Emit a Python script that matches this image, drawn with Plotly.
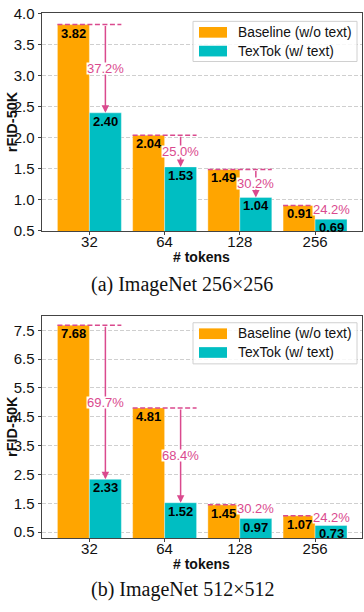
import plotly.graph_objects as go
from plotly.subplots import make_subplots

W, H = 364, 612

TOKENS = ["32", "64", "128", "256"]

# (a) ImageNet 256x256
BASE_256 = [3.82, 2.04, 1.49, 0.91]
TEXTOK_256 = [2.40, 1.53, 1.04, 0.69]
PCT_256 = ["37.2%", "25.0%", "30.2%", "24.2%"]

# (b) ImageNet 512x512
BASE_512 = [7.68, 4.81, 1.45, 1.07]
TEXTOK_512 = [2.33, 1.52, 0.97, 0.73]
PCT_512 = ["69.7%", "68.4%", "30.2%", "24.2%"]

YTICKS_256 = [0.5, 1.0, 1.5, 2.0, 2.5, 3.0, 3.5, 4.0]
YTICKS_512 = [0.5, 1.5, 2.5, 3.5, 4.5, 5.5, 6.5, 7.5]

SERIES_NAMES = ["Baseline (w/o text)", "TexTok (w/ text)"]

ORANGE = "#FFA500"
TEAL = "#00BEC2"
PINK = "#DA4A8E"
AXIS = "#444444"
FONT = "Liberation Sans"


def px_x(p):
    return p / W


def px_y(p):
    return 1 - p / H


panels = [
    dict(base=BASE_256, tok=TEXTOK_256, pct=PCT_256, yrange=[0.5, 4.0], yticks=YTICKS_256,
         top=4.5, bottom=228.3, xtitle_y=255, caption="(a) ImageNet 256×256", cap_y=283,
         leg=(193, 12.7, 357, 54), rows=(24, 43.3)),
    dict(base=BASE_512, tok=TEXTOK_512, pct=PCT_512, yrange=[0.3, 8.0], yticks=YTICKS_512,
         top=315.7, bottom=544, xtitle_y=570.7, caption="(b) ImageNet 512×512", cap_y=596.7,
         leg=(193, 322.7, 357, 365), rows=(334, 353.3)),
]

fig = make_subplots(rows=2, cols=1)

annotations = []
shapes = []
x_left, x_right = 42, 361.7
half = 0.425  # bar width in category units


def paper_text(x, y, text, **kw):
    d = dict(x=px_x(x), y=px_y(y), xref="paper", yref="paper", text=text,
             showarrow=False, xanchor="center", yanchor="middle")
    d.update(kw)
    annotations.append(d)


for r, p in enumerate(panels, start=1):
    xref = "x" if r == 1 else "x2"
    yref = "y" if r == 1 else "y2"

    fig.add_trace(go.Bar(x=TOKENS, y=p["base"], name=SERIES_NAMES[0], marker_color=ORANGE,
                         marker_line=dict(color="rgba(255,255,255,0.45)", width=0.8),
                         showlegend=False), row=r, col=1)
    fig.add_trace(go.Bar(x=TOKENS, y=p["tok"], name=SERIES_NAMES[1], marker_color=TEAL,
                         marker_line=dict(color="rgba(255,255,255,0.45)", width=0.8),
                         showlegend=False), row=r, col=1)

    fig.update_xaxes(row=r, col=1, type="category", range=[-0.63, 3.62],
                     domain=[px_x(x_left), px_x(x_right)],
                     showline=True, mirror=True, linecolor=AXIS, linewidth=1,
                     ticks="outside", ticklen=3.5, tickcolor=AXIS, showgrid=False,
                     ticklabelstandoff=-6,
                     tickfont=dict(family=FONT, size=15, color="#111"))
    fig.update_yaxes(row=r, col=1, range=p["yrange"], domain=[px_y(p["bottom"]), px_y(p["top"])],
                     tickvals=p["yticks"], ticktext=[f"{v:.1f}" for v in p["yticks"]],
                     showline=True, mirror=True, linecolor=AXIS, linewidth=1,
                     ticks="outside", ticklen=3.5, tickcolor=AXIS, ticklabeloverflow="allow",
                     showgrid=True, gridcolor="#cfcfcf", griddash="4px,2px", gridwidth=0.8,
                     zeroline=False, tickfont=dict(family=FONT, size=15, color="#111"))

    span = p["yrange"][1] - p["yrange"][0]
    for j in range(len(TOKENS)):
        b, t = p["base"][j], p["tok"][j]
        # value labels inside bar tops (category axes take the serial index)
        for v, dx in ((b, -16), (t, 16)):
            annotations.append(dict(x=j, y=v, xref=xref, yref=yref, xshift=dx, yanchor="top",
                                    text=f"{v:.2f}", showarrow=False, borderpad=0,
                                    font=dict(family=FONT, size=13, color="black", weight="bold")))
        # dashed reference line at baseline level
        shapes.append(dict(type="line", xref=xref, yref=yref, x0=j - half, x1=j + half,
                           y0=b, y1=b, line=dict(color=PINK, width=1.5, dash="5px,2.5px")))
        # arrow down to TexTok value (only where there is room for it)
        big = (b - t) / span > 0.1
        if big:
            annotations.append(dict(x=j, y=t, xref=xref, yref=yref, xshift=16,
                                    ax=0, axref="pixel", ay=b, ayref=yref, text="",
                                    showarrow=True, arrowhead=2, arrowsize=1, arrowwidth=1.5,
                                    arrowcolor=PINK, standoff=0))
        annotations.append(dict(x=j, y=(b + t) / 2, xref=xref, yref=yref, xshift=16,
                                yshift=0 if big else 3, yanchor="middle",
                                text=p["pct"][j], showarrow=False, bgcolor="white",
                                borderpad=0, height=11,
                                font=dict(family=FONT, size=13, color=PINK)))

    # axis titles and caption
    paper_text(12, (p["top"] + p["bottom"]) / 2, "rFID-50K", textangle=-90,
               font=dict(family=FONT, size=14.5, color="#111", weight="bold"))
    paper_text((x_left + x_right) / 2, p["xtitle_y"], "# tokens",
               font=dict(family=FONT, size=14, color="#111", weight="bold"))
    paper_text(W / 2, p["cap_y"], p["caption"],
               font=dict(family="Liberation Serif", size=20, color="#111"))

    # legend box drawn by hand (wide swatches like the original)
    lx0, ly0, lx1, ly1 = p["leg"]
    shapes.append(dict(type="rect", xref="paper", yref="paper", x0=px_x(lx0), x1=px_x(lx1),
                       y0=px_y(ly1), y1=px_y(ly0), fillcolor="rgba(255,255,255,0.85)",
                       line=dict(color="#d0d0d0", width=1), layer="above"))
    for name, col, ry in zip(SERIES_NAMES, (ORANGE, TEAL), p["rows"]):
        shapes.append(dict(type="rect", xref="paper", yref="paper", x0=px_x(199), x1=px_x(227),
                           y0=px_y(ry + 5.5), y1=px_y(ry - 5.5), fillcolor=col,
                           line=dict(width=0), layer="above"))
        paper_text(236, ry, name, xanchor="left",
                   font=dict(family=FONT, size=13.8, color="#111"))

fig.update_layout(
    width=W, height=H, margin=dict(l=0, r=0, t=0, b=0),
    barmode="group", bargap=0.15, bargroupgap=0,
    plot_bgcolor="white", paper_bgcolor="white",
    showlegend=False, annotations=annotations, shapes=shapes,
)

# pin the figure to the window corner (no default body margin, no scrollbars)
PIN = ("document.body.style.margin='0';"
       "document.documentElement.style.overflow='hidden';"
       "var gd=document.getElementById('{plot_id}');"
       "gd.style.position='absolute';gd.style.left='0px';gd.style.top='0px';")
fig.write_html("out.html", config={"displayModeBar": False}, post_script=PIN)
